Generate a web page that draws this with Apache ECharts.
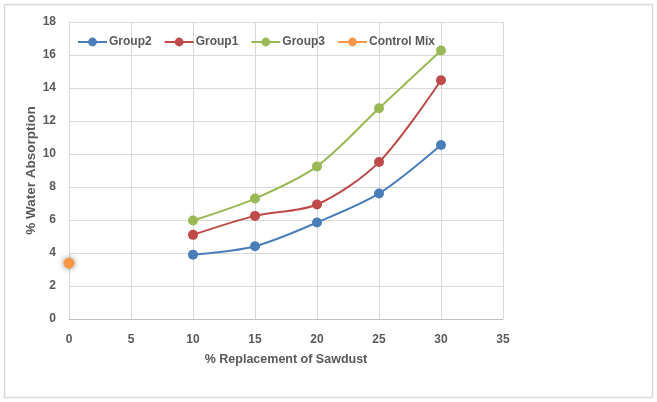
<!DOCTYPE html>
<html><head><meta charset="utf-8">
<script src="https://cdn.jsdelivr.net/npm/echarts@6/dist/echarts.min.js"></script>
<style>html,body{margin:0;padding:0;background:#fff}#c{width:657px;height:402px}</style>
</head><body><div id="c"></div>
<script>
const xValues = [10, 15, 20, 25, 30];
const group2 = [3.9, 4.41, 5.85, 7.61, 10.55];
const group1 = [5.1, 6.25, 6.94, 9.51, 14.47];
const group3 = [5.97, 7.3, 9.25, 12.77, 16.27];
const controlX = [0];
const controlMix = [3.38];
const seriesNames = ['Group2', 'Group1', 'Group3', 'Control Mix'];
const colors = ['#4a7ebb', '#be4b48', '#98b954', '#f79646'];

const pair = (xs, ys) => xs.map((x, i) => [x, ys[i]]);
const font = 'Liberation Sans';
const chart = echarts.init(document.getElementById('c'));
chart.setOption({
  animation: false,
  graphic: [{type: 'rect', shape: {x: 4.5, y: 4.5, width: 648, height: 393}, style: {fill: 'none', stroke: '#d9d9d9', lineWidth: 1.5}}],
  grid: {left: 69, right: 154, top: 22, bottom: 83},
  legend: {
    top: 31, left: 72, itemWidth: 29, itemHeight: 11, itemGap: 12,
    data: seriesNames,
    textStyle: {fontFamily: font, fontWeight: 'bold', fontSize: 12, color: '#595959', padding: [0, 0, 0, -3]}
  },
  xAxis: {
    type: 'value', min: 0, max: 35, interval: 5,
    name: '% Replacement of Sawdust', nameLocation: 'middle', nameGap: 34, nameMoveOverlap: false,
    nameTextStyle: {fontFamily: font, fontWeight: 'bold', fontSize: 12.5, color: '#595959'},
    axisLine: {show: true, lineStyle: {color: '#bfbfbf'}},
    axisTick: {show: false},
    axisLabel: {fontFamily: font, fontWeight: 'bold', fontSize: 12, color: '#595959', margin: 15},
    splitLine: {show: true, lineStyle: {color: '#d9d9d9'}}
  },
  yAxis: {
    type: 'value', min: 0, max: 18, interval: 2,
    name: '% Water Absorption', nameLocation: 'middle', nameGap: 31, nameMoveOverlap: false,
    nameTextStyle: {fontFamily: font, fontWeight: 'bold', fontSize: 13.5, color: '#595959'},
    axisLine: {show: false}, axisTick: {show: false},
    axisLabel: {fontFamily: font, fontWeight: 'bold', fontSize: 12, color: '#595959', margin: 13},
    splitLine: {show: true, lineStyle: {color: '#d9d9d9'}}
  },
  series: [
    {name: 'Group2', type: 'line', smooth: 0.3, data: pair(xValues, group2), color: colors[0], symbol: 'circle', symbolSize: 10, lineStyle: {width: 2}},
    {name: 'Group1', type: 'line', smooth: 0.3, data: pair(xValues, group1), color: colors[1], symbol: 'circle', symbolSize: 10, lineStyle: {width: 2}},
    {name: 'Group3', type: 'line', smooth: 0.3, data: pair(xValues, group3), color: colors[2], symbol: 'circle', symbolSize: 10, lineStyle: {width: 2}},
    {name: 'Control Mix', type: 'line', data: pair(controlX, controlMix), color: colors[3], symbol: 'circle', symbolSize: 11, lineStyle: {width: 2},
     itemStyle: {shadowBlur: 6, shadowColor: 'rgba(0,0,0,0.45)'}}
  ]
});
</script></body></html>
